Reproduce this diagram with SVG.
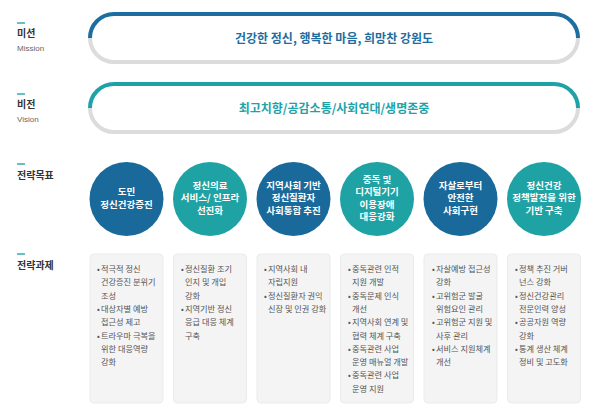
<svg xmlns="http://www.w3.org/2000/svg" width="600" height="417" viewBox="0 0 600 417">
<style>
text{font-family:"Noto Sans CJK KR","Noto Sans",sans-serif}
.lbl{font-size:10px;font-weight:bold;fill:#333}
.sub{font-family:"Liberation Sans","Noto Sans",sans-serif;font-size:8px;fill:#666}
.dash{stroke:#3aa9b0;stroke-width:1.5}
.pt{fill:none;stroke-width:4}
.pg{fill:none;stroke:#dcdcdc;stroke-width:4}
.ptxt{font-size:12px;font-weight:bold;text-anchor:middle}
.ct{font-size:9.5px;font-weight:bold;fill:#fff;text-anchor:middle}
.box{fill:#f4f4f4;stroke:#ebebeb;stroke-width:1}
.bt{font-size:8.2px;fill:#555}
.blue{fill:#19699b}
.teal{fill:#1ea2a4}
</style>
<rect width="600" height="417" fill="#fff"/>
<g id="labels">
<line class="dash" x1="17" y1="23" x2="25" y2="23"/>
<text class="lbl" x="17" y="37">미션</text>
<text class="sub" x="17" y="51">Mission</text>
<line class="dash" x1="17" y1="94" x2="25" y2="94"/>
<text class="lbl" x="17" y="108">비전</text>
<text class="sub" x="17" y="122">Vision</text>
<line class="dash" x1="17" y1="164" x2="25" y2="164"/>
<text class="lbl" x="17" y="179">전략목표</text>
<line class="dash" x1="17" y1="254" x2="25" y2="254"/>
<text class="lbl" x="17" y="269">전략과제</text>
</g>
<g id="mission">
<path class="pt" stroke="#1d6ea0" d="M90,38 A24,24 0 0 1 114,14 H554 A24,24 0 0 1 578,38"/>
<path class="pg" d="M90,38 A24,24 0 0 0 114,62 H554 A24,24 0 0 0 578,38"/>
<text class="ptxt" x="334" y="42.5" fill="#1d6ea0">건강한 정신, 행복한 마음, 희망찬 강원도</text>
</g>
<g id="vision">
<path class="pt" stroke="#1ea2a8" d="M90,108 A24,24 0 0 1 114,84 H554 A24,24 0 0 1 578,108"/>
<path class="pg" d="M90,108 A24,24 0 0 0 114,132 H554 A24,24 0 0 0 578,108"/>
<text class="ptxt" x="334" y="112.5" fill="#1ea2a8">최고치향/공감소통/사회연대/생명존중</text>
</g>
<g id="goal1"><circle class="blue" cx="126.5" cy="199" r="37"/>
<text class="ct"><tspan x="126.5" y="195">도민</tspan><tspan x="126.5" y="207.5">정신건강증진</tspan></text></g>
<g id="goal2"><circle class="teal" cx="210" cy="199" r="37"/>
<text class="ct"><tspan x="210" y="188.5">정신의료</tspan><tspan x="210" y="201">서비스/ 인프라</tspan><tspan x="210" y="213.5">선진화</tspan></text></g>
<g id="goal3"><circle class="blue" cx="293.5" cy="199" r="37"/>
<text class="ct"><tspan x="293.5" y="188.5">지역사회 기반</tspan><tspan x="293.5" y="201">정신질환자</tspan><tspan x="293.5" y="213.5">사회통합 추진</tspan></text></g>
<g id="goal4"><circle class="teal" cx="377" cy="199" r="37"/>
<text class="ct"><tspan x="377" y="182.5">중독 및</tspan><tspan x="377" y="195">디지털기기</tspan><tspan x="377" y="207.5">이용장애</tspan><tspan x="377" y="220">대응강화</tspan></text></g>
<g id="goal5"><circle class="blue" cx="460.5" cy="199" r="37"/>
<text class="ct"><tspan x="460.5" y="188.5">자살로부터</tspan><tspan x="460.5" y="201">안전한</tspan><tspan x="460.5" y="213.5">사회구현</tspan></text></g>
<g id="goal6"><circle class="teal" cx="544" cy="199" r="37"/>
<text class="ct"><tspan x="544" y="188.5">정신건강</tspan><tspan x="544" y="201">정책발전을 위한</tspan><tspan x="544" y="213.5">기반 구축</tspan></text></g>
<g id="task1"><rect class="box" x="90" y="254" width="73" height="149" rx="4"/>
<text class="bt"><tspan x="97" y="272">•</tspan><tspan x="97" y="311.9">•</tspan><tspan x="97" y="338.5">•</tspan></text>
<text class="bt"><tspan x="101" y="272">적극적 정신</tspan><tspan x="101" y="285.3">건강증진 분위기</tspan><tspan x="101" y="298.6">조성</tspan><tspan x="101" y="311.9">대상자별 예방</tspan><tspan x="101" y="325.2">접근성 제고</tspan><tspan x="101" y="338.5">트라우마 극복을</tspan><tspan x="101" y="351.8">위한 대응역량</tspan><tspan x="101" y="365.1">강화</tspan></text></g>
<g id="task2"><rect class="box" x="173.5" y="254" width="73" height="149" rx="4"/>
<text class="bt"><tspan x="181" y="272">•</tspan><tspan x="181" y="311.9">•</tspan></text>
<text class="bt"><tspan x="185" y="272">정신질환 조기</tspan><tspan x="185" y="285.3">인지 및 개입</tspan><tspan x="185" y="298.6">강화</tspan><tspan x="185" y="311.9">지역기반 정신</tspan><tspan x="185" y="325.2">응급 대응 체계</tspan><tspan x="185" y="338.5">구축</tspan></text></g>
<g id="task3"><rect class="box" x="257" y="254" width="73" height="149" rx="4"/>
<text class="bt"><tspan x="264" y="272">•</tspan><tspan x="264" y="298.6">•</tspan></text>
<text class="bt"><tspan x="268" y="272">지역사회 내</tspan><tspan x="268" y="285.3">자립지원</tspan><tspan x="268" y="298.6">정신질환자 권익</tspan><tspan x="268" y="311.9">신장 및 인권 강화</tspan></text></g>
<g id="task4"><rect class="box" x="340.5" y="254" width="73" height="149" rx="4"/>
<text class="bt"><tspan x="348" y="272">•</tspan><tspan x="348" y="298.6">•</tspan><tspan x="348" y="325.2">•</tspan><tspan x="348" y="351.8">•</tspan><tspan x="348" y="378.4">•</tspan></text>
<text class="bt"><tspan x="352" y="272">중독관련 인적</tspan><tspan x="352" y="285.3">지원 개발</tspan><tspan x="352" y="298.6">중독문제 인식</tspan><tspan x="352" y="311.9">개선</tspan><tspan x="352" y="325.2">지역사회 연계 및</tspan><tspan x="352" y="338.5">협력 체계 구축</tspan><tspan x="352" y="351.8">중독관련 사업</tspan><tspan x="352" y="365.1">운영 매뉴얼 개발</tspan><tspan x="352" y="378.4">중독관련 사업</tspan><tspan x="352" y="391.7">운영 지원</tspan></text></g>
<g id="task5"><rect class="box" x="424" y="254" width="73" height="149" rx="4"/>
<text class="bt"><tspan x="432" y="272">•</tspan><tspan x="432" y="298.6">•</tspan><tspan x="432" y="325.2">•</tspan><tspan x="432" y="351.8">•</tspan></text>
<text class="bt"><tspan x="436" y="272">자살예방 접근성</tspan><tspan x="436" y="285.3">강화</tspan><tspan x="436" y="298.6">고위험군 발굴</tspan><tspan x="436" y="311.9">위험요인 관리</tspan><tspan x="436" y="325.2">고위험군 지원 및</tspan><tspan x="436" y="338.5">사후 관리</tspan><tspan x="436" y="351.8">서비스 지원체계</tspan><tspan x="436" y="365.1">개선</tspan></text></g>
<g id="task6"><rect class="box" x="507.5" y="254" width="73" height="149" rx="4"/>
<text class="bt"><tspan x="515" y="272">•</tspan><tspan x="515" y="298.6">•</tspan><tspan x="515" y="325.2">•</tspan><tspan x="515" y="351.8">•</tspan></text>
<text class="bt"><tspan x="519" y="272">정책 추진 거버</tspan><tspan x="519" y="285.3">넌스 강화</tspan><tspan x="519" y="298.6">정신건강관리</tspan><tspan x="519" y="311.9">전문인력 양성</tspan><tspan x="519" y="325.2">공공자원 역량</tspan><tspan x="519" y="338.5">강화</tspan><tspan x="519" y="351.8">통계 생산 체계</tspan><tspan x="519" y="365.1">정비 및 고도화</tspan></text></g>
<g id="connectors"/>
</svg>
